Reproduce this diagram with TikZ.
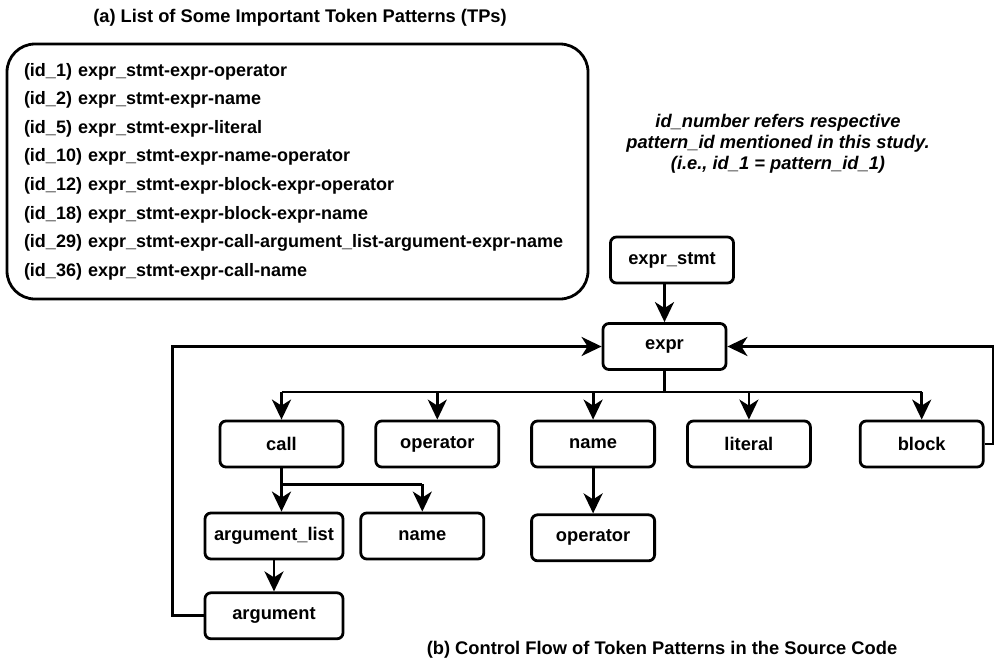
\documentclass[tikz,border=0pt]{standalone}
\usepackage{fontspec}
\setmainfont{Liberation Sans}
\usepackage{tikz}
\usetikzlibrary{positioning,calc,arrows.meta}
\tikzset{
  tokenBox/.style={
    rectangle,
    rounded corners=6pt,
    draw=black,
    line width=2.8pt,
    minimum width=123pt,
    minimum height=46pt,
    inner sep=2pt,
    font=\bfseries\fontsize{18.3}{22}\selectfont,
    align=center
  },
  listBox/.style={
    rectangle,
    rounded corners=28pt,
    draw=black,
    line width=2.8pt,
    minimum width=581pt,
    minimum height=255pt,
    inner xsep=17pt,
    text width=547pt,
    font=\bfseries\fontsize{18}{28.6}\selectfont,
    align=left
  },
  titleText/.style={
    font=\bfseries\fontsize{18.3}{22}\selectfont
  },
  noteText/.style={
    font=\bfseries\itshape\fontsize{18.3}{21}\selectfont,
    align=center
  },
  flowLine/.style={
    line width=2.8pt
  },
  flowArrow/.style={
    -{Stealth[length=20pt,width=19pt,inset=6pt]},
    line width=2.8pt
  }
}

\begin{document}
\begin{tikzpicture}[x=1pt,y=-1pt]
        \useasboundingbox (0,0) rectangle (994,664);

        % (a) token pattern list
        \node[titleText] (titleA) at (300,18) {(a) List of Some Important Token Patterns (TPs)};
        \node[listBox] (tpList) at (297.5,171.5) {%
          (id\_1) expr\_stmt-expr-operator\\
          (id\_2) expr\_stmt-expr-name\\
          (id\_5) expr\_stmt-expr-literal\\
          (id\_10) expr\_stmt-expr-name-operator\\
          (id\_12) expr\_stmt-expr-block-expr-operator\\
          (id\_18) expr\_stmt-expr-block-expr-name\\
          (id\_29) expr\_stmt-expr-call-argument\_list-argument-expr-name\\
          (id\_36) expr\_stmt-expr-call-name};

        \node[noteText] (note) at (778,144) {id\_number refers respective\\
          pattern\_id mentioned in this study.\\
          (i.e., id\_1 = pattern\_id\_1)};

        % (b) control flow
        \node[tokenBox] (exprStmt) at (672,260) {expr\_stmt};
        \node[tokenBox] (expr) at (664.5,346.5) {expr};

        \node[tokenBox] (call) at (281.5,444) {call};
        \node[tokenBox, right=30pt of call] (operator) {operator};
        \node[tokenBox, right=30pt of operator] (name) {name};
        \node[tokenBox, right=30pt of name] (literal) {literal};
        \node[tokenBox, right=47pt of literal] (block) {block};

        \node[tokenBox, minimum width=138pt] (argList) at (274,536) {argument\_list};
        \node[tokenBox, right=15pt of argList] (callName) {name};
        \node[tokenBox, minimum width=138pt, below=31pt of argList] (argument) {argument};
        \node[tokenBox, below=45pt of name] (nameOp) {operator};

        \node[titleText] (titleB) at (662,650) {(b) Control Flow of Token Patterns in the Source Code};

        \draw[flowArrow] (exprStmt.south -| expr.north) -- (expr.north);

        \coordinate (split) at ($(expr.south)+(0,21)$);
        \draw[flowLine] (expr.south) -- (split);
        \draw[flowLine] (split -| call.north) -- (split -| block.north);
        \foreach \child in {call,operator,name,literal,block}
          \draw[flowArrow] (split -| \child.north) -- (\child.north);

        \coordinate (callSplit) at ($(call.south)+(0,16)$);
        \draw[flowLine] (call.south) -- (callSplit) -- (callSplit -| callName.north);
        \draw[flowArrow] (callSplit) -- (callSplit |- argList.north);
        \draw[flowArrow] (callSplit -| callName.north) -- (callName.north);

        \draw[flowArrow] (name) -- (nameOp);
        \draw[flowArrow] (argList) -- (argument);

        % loops back to expr
        \coordinate (rightEdge) at (993,0);
        \draw[flowArrow] (argument.west) -- ++(-31,0) |- (expr.west);
        \draw[flowArrow] (block.east) -- (block.east -| rightEdge) |- (expr.east);

    \end{tikzpicture}
\end{document}
